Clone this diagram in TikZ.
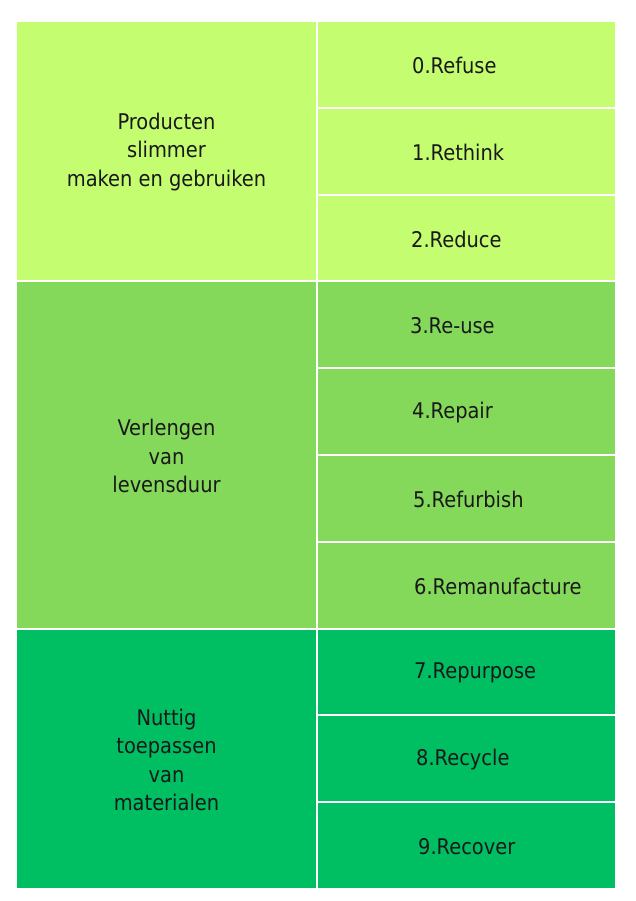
\documentclass[tikz,border=0pt]{standalone}
\usepackage{fontspec}
\setmainfont{DejaVu Sans Condensed}
\usepackage{tikz}
\definecolor{groenlicht}{RGB}{196,253,112}
\definecolor{groenmidden}{RGB}{133,217,90}
\definecolor{groendonker}{RGB}{0,191,99}
\tikzset{
	stap/.style={anchor=west, inner sep=0pt, text=black!90, font=\fontsize{21.6}{28.5}\selectfont},
	groep/.style={align=center, inner sep=0pt, text=black!90, font=\fontsize{21.6}{28.5}\selectfont}
}

\begin{document}
\begin{tikzpicture}[x=1pt, y=1pt]
		%%%%% START %%%%%
		\useasboundingbox[fill=white] (0, 0) rectangle (636, 901);
		
		\fill[groenlicht] (17, 879) rectangle (316, 620.6);
		\fill[groenmidden] (17, 618.6) rectangle (316, 273.4);
		\fill[groendonker] (17, 271.4) rectangle (316, 13);
		
		\node[groep] (producten) at (166.5, 749) {Producten\\slimmer\\maken en gebruiken};
		\node[groep] (verlengen) at (166.5, 445) {Verlengen\\van\\levensduur};
		\node[groep] (materialen) at (166.5, 141.2) {Nuttig\\toepassen\\van\\materialen};
		
		\fill[groenlicht] (318, 879) rectangle (615, 794.2);
		\fill[groenlicht] (318, 792.2) rectangle (615, 707.4);
		\fill[groenlicht] (318, 705.4) rectangle (615, 620.6);
		\fill[groenmidden] (318, 618.6) rectangle (615, 533.8);
		\fill[groenmidden] (318, 531.8) rectangle (615, 447);
		\fill[groenmidden] (318, 445) rectangle (615, 360.2);
		\fill[groenmidden] (318, 358.2) rectangle (615, 273.4);
		\fill[groendonker] (318, 271.4) rectangle (615, 186.6);
		\fill[groendonker] (318, 184.6) rectangle (615, 99.8);
		\fill[groendonker] (318, 97.8) rectangle (615, 13);
		
		\node[stap] (refuse) at (412, 835.6) {0.Refuse};
		\node[stap] (rethink) at (412, 748.8) {1.Rethink};
		\node[stap] (reduce) at (411, 662) {2.Reduce};
		\node[stap] (reuse) at (410, 575.2) {3.Re-use};
		\node[stap] (repair) at (412, 488.4) {4.Repair};
		\node[stap] (refurbish) at (413, 401.6) {5.Refurbish};
		\node[stap] (remanufacture) at (414, 314.8) {6.Remanufacture};
		\node[stap] (repurpose) at (414, 228) {7.Repurpose};
		\node[stap] (recycle) at (416, 141.2) {8.Recycle};
		\node[stap] (recover) at (418, 54.4) {9.Recover};
		%%%%% END %%%%%
	\end{tikzpicture}
\end{document}
